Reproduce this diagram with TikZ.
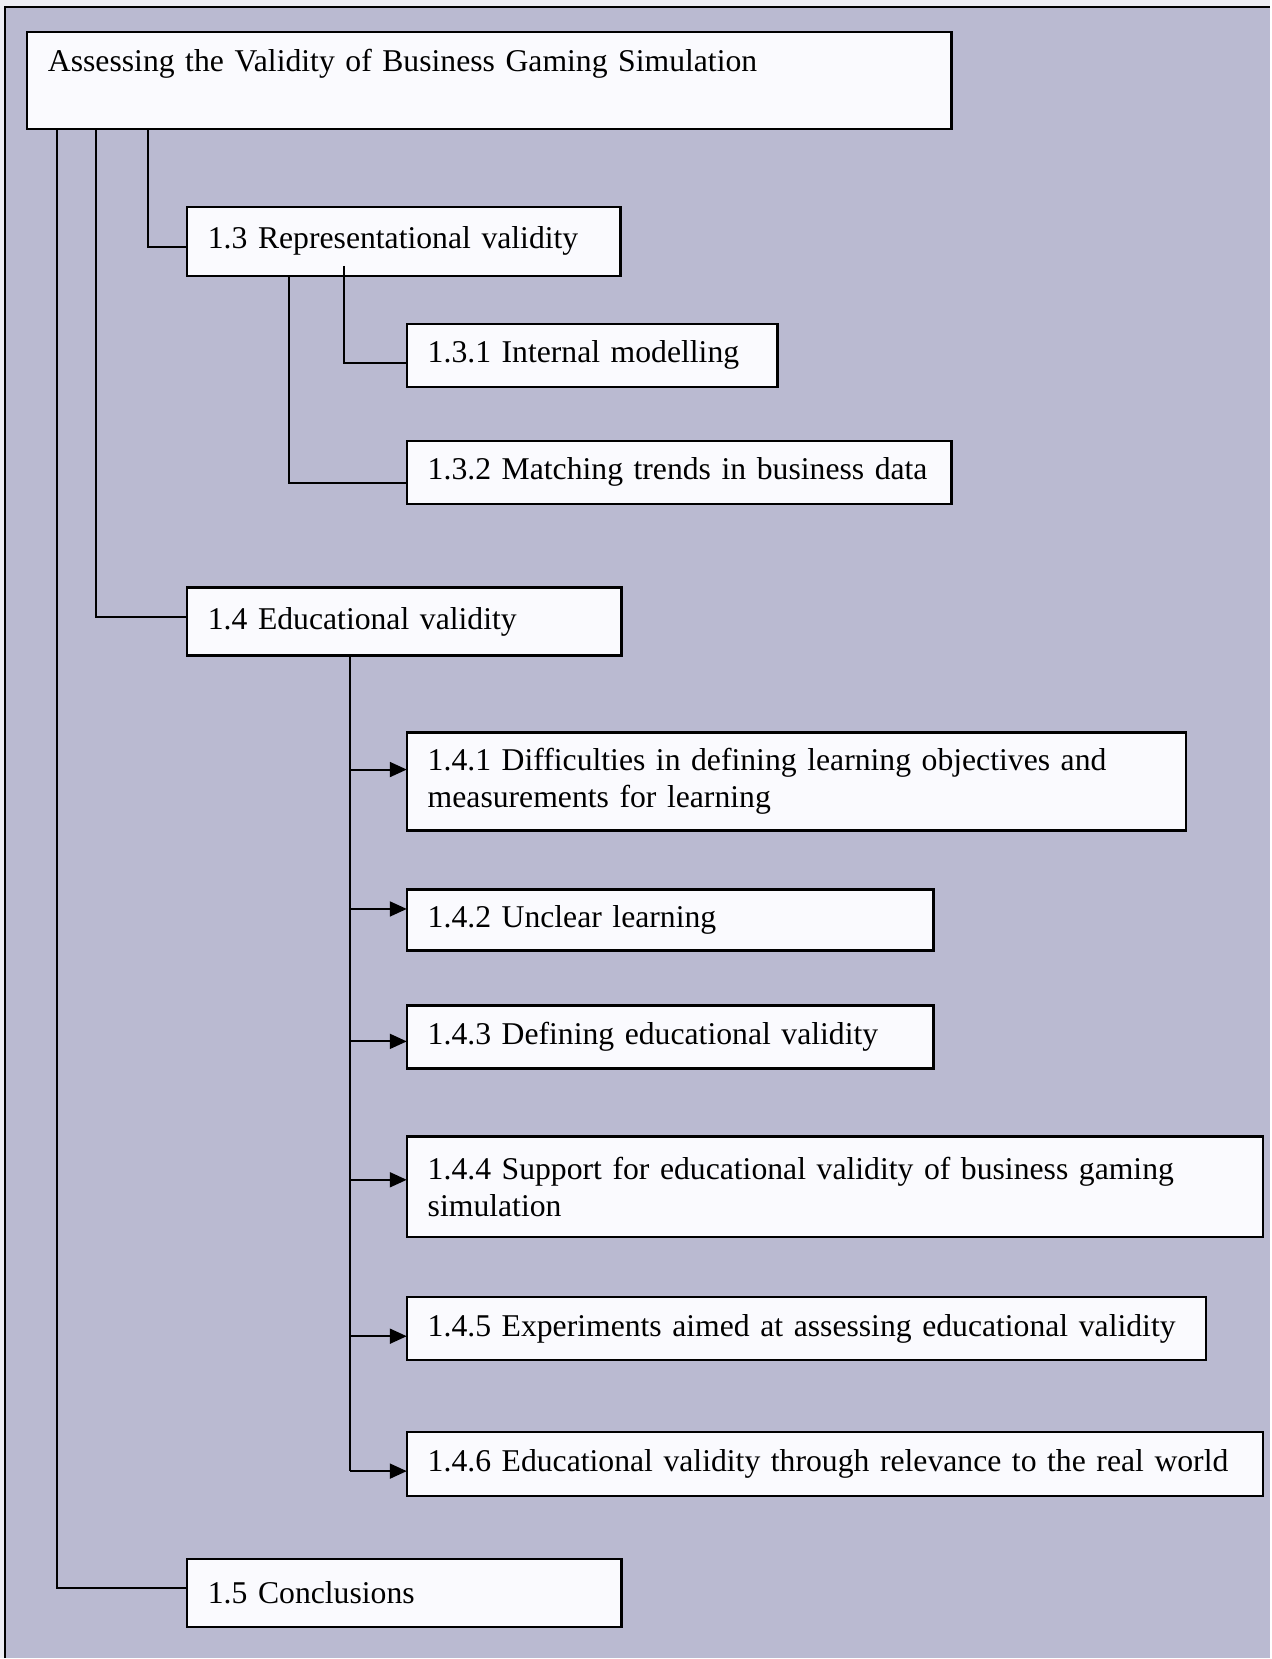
\documentclass[tikz,border=0pt]{standalone}
\usepackage{fontspec}
\setmainfont{Liberation Serif}
\usetikzlibrary{arrows.meta}
\definecolor{pagebg}{RGB}{186,186,209}
\definecolor{margin}{RGB}{238,238,244}
\definecolor{boxfill}{RGB}{250,250,254}

\begin{document}
\begin{tikzpicture}[x=1pt,y=-1pt,
  box/.style={draw=black, fill=boxfill, line width=2.4pt, anchor=north west,
    outer sep=0pt, inner xsep=21pt, inner ysep=0pt, align=left,
    font=\fontsize{31.7}{37}\selectfont},
  wire/.style={line width=2pt},
  feed/.style={wire, -{Triangle[length=17pt,width=15pt]}}]

% page background and frame
\fill[margin] (0,0) rectangle (1271,1659);
\fill[pagebg] (5,7) rectangle (1271,1659);
\draw[line width=2pt] (5,1659) -- (5,7) -- (1271,7);
\useasboundingbox (0,0) rectangle (1271,1659);

% boxes
\node[box, text width=883pt, text height=40pt, text depth=57pt] (root) at (27,32)
  {Assessing the Validity of Business Gaming Simulation};
\node[box, text width=392pt, minimum height=69pt] (n13) at (187,207) {1.3 Representational validity};
\node[box, text width=329pt, minimum height=63pt] (n131) at (407,324) {1.3.1 Internal modelling};
\node[box, text width=503pt, minimum height=63pt] (n132) at (407,441) {\mbox{1.3.2 Matching trends in business data}};
\node[box, text width=393pt, minimum height=68pt] (n14) at (187,588) {1.4 Educational validity};
\node[box, text width=738pt, minimum height=98pt] (n141) at (407,733)
  {1.4.1 Difficulties in defining learning objectives and\\measurements for learning};
\node[box, text width=485pt, minimum height=61pt] (n142) at (407,890) {1.4.2 Unclear learning};
\node[box, text width=485pt, minimum height=63pt] (n143) at (407,1006) {1.4.3 Defining educational validity};
\node[box, text width=815pt, minimum height=101pt] (n144) at (407,1137)
  {1.4.4 Support for educational validity of business gaming\\simulation};
\node[box, text width=758pt, minimum height=63pt] (n145) at (407,1298) {\mbox{1.4.5 Experiments aimed at assessing educational validity}};
\node[box, text width=815pt, minimum height=64pt] (n146) at (407,1433) {\mbox{1.4.6 Educational validity through relevance to the real world}};
\node[box, text width=393pt, minimum height=68pt] (n15) at (187,1560) {1.5 Conclusions};

% x positions of the vertical branch lines
\coordinate (xa) at (57,0);
\coordinate (xb) at (96,0);
\coordinate (xc) at (148,0);
\coordinate (xd) at (289,0);
\coordinate (xe) at (344,0);
\coordinate (xf) at (350,0);

% entry points on the left sides of the boxes
\coordinate (e13) at ([yshift=-5.5pt]n13.west);
\coordinate (e131) at ([yshift=-8pt]n131.west);
\coordinate (e132) at ([yshift=-11pt]n132.west);
\coordinate (e14) at ([yshift=5pt]n14.west);
\coordinate (e141) at ([yshift=12pt]n141.west);
\coordinate (e142) at ([yshift=11pt]n142.west);
\coordinate (e143) at ([yshift=-4.5pt]n143.west);
\coordinate (e144) at ([yshift=7pt]n144.west);
\coordinate (e145) at ([yshift=-7.5pt]n145.west);
\coordinate (e146) at ([yshift=-7pt]n146.west);
\coordinate (e15) at ([yshift=5pt]n15.west);
\coordinate (s13) at ([yshift=10pt]n13.south);

% branches from the top box
\draw[wire] (root.south -| xa) |- (e15);
\draw[wire] (root.south -| xb) |- (e14);
\draw[wire] (root.south -| xc) |- (e13);

% branches of 1.3
\draw[wire] (s13 -| xe) |- (e131);
\draw[wire] (n13.south -| xd) |- (e132);

% branches of 1.4
\draw[wire] (n14.south -| xf) -- (xf |- e146);
\draw[feed] (xf |- e141) -- (e141);
\draw[feed] (xf |- e142) -- (e142);
\draw[feed] (xf |- e143) -- (e143);
\draw[feed] (xf |- e144) -- (e144);
\draw[feed] (xf |- e145) -- (e145);
\draw[feed] (xf |- e146) -- (e146);
\end{tikzpicture}
\end{document}
